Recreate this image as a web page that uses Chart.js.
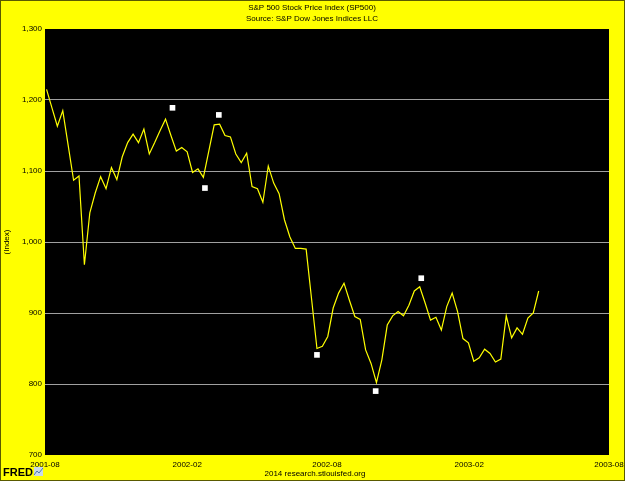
<!DOCTYPE html>
<html>
<head>
<meta charset="utf-8">
<script src="https://cdn.jsdelivr.net/npm/chart.js@4.4.0/dist/chart.umd.min.js"></script>
<style>
  html, body { margin: 0; padding: 0; background: #ffff00; }
  canvas { display: block; }
</style>
</head>
<body>
<canvas id="sp500Chart" width="625" height="481"></canvas>
<script>
// weekly closes (week ending Friday), first week 2001-08-03
const firstWeek = '2001-08-03';
const sp500 = [
    1215, 1189, 1163, 1185, 1136, 1087, 1093, 968, 1041, 1069,
    1092, 1075, 1105, 1088, 1120, 1140, 1152, 1140, 1159, 1124,
    1140, 1157, 1173, 1150, 1128, 1133, 1127, 1098, 1103, 1091,
    1128, 1165, 1166, 1150, 1148, 1124, 1112, 1125, 1078, 1075,
    1056, 1107, 1083, 1068, 1031, 1007, 991, 991, 990, 920,
    850, 853, 867, 907, 928, 942, 918, 895, 891, 848,
    829, 802, 834, 883, 896, 902, 896, 911, 931, 937,
    914, 890, 894, 876, 909, 928, 902, 864, 858, 832,
    837, 849, 843, 831, 835, 896, 865, 879, 870, 893,
    900, 931
];

// white square marks
const markerDates = ['2002-01-13', '2002-02-24', '2002-03-14', '2002-07-19', '2002-10-03', '2002-12-01'];
const markerValues = [1189, 1076, 1179, 841, 790, 949];

const tickDates = ['2001-08-01', '2002-02-01', '2002-08-01', '2003-02-01', '2003-08-01'];
const tickLabels = ['2001-08', '2002-02', '2002-08', '2003-02', '2003-08'];

const FONT = "'Liberation Sans', Arial, sans-serif";
const origin = Date.UTC(2001, 7, 1);

function dayOf(str) {
    const [y, m, d] = str.split('-').map(Number);
    return (Date.UTC(y, m - 1, d) - origin) / 86400000;
}

function withCommas(v) {
    return String(v).replace(/\B(?=(\d{3})+(?!\d))/g, ',');
}

const start = dayOf(firstWeek);
const linePoints = sp500.map((v, i) => ({ x: start + 7 * i, y: v }));
const markerPoints = markerDates.map((d, i) => ({ x: dayOf(d), y: markerValues[i] }));

// yellow page, black plot, texts
const backdrop = {
    id: 'backdrop',
    beforeDraw(chart) {
        const { ctx, chartArea: a, width, height } = chart;
        ctx.save();
        ctx.fillStyle = '#ffff00';
        ctx.fillRect(0, 0, width, height);
        ctx.fillStyle = '#000000';
        ctx.fillRect(a.left, a.top, a.right - a.left, a.bottom - a.top);
        ctx.restore();
    },
    afterDraw(chart) {
        const { ctx, width, height } = chart;
        ctx.save();
        ctx.fillStyle = '#000';
        ctx.font = '8px ' + FONT;
        ctx.textAlign = 'center';
        ctx.textBaseline = 'middle';
        ctx.fillText('S&P 500 Stock Price Index (SP500)', 312, 8);
        ctx.fillText('Source: S&P Dow Jones Indices LLC', 312, 19);
        ctx.fillText('2014 research.stlouisfed.org', 315, 474);

        // FRED logo
        ctx.textAlign = 'left';
        ctx.font = 'bold 11px ' + FONT;
        ctx.fillText('FRED', 3, 473);
        ctx.fillStyle = '#c8d8e8';
        ctx.fillRect(34, 467, 9, 9);
        ctx.strokeStyle = '#4a78b0';
        ctx.lineWidth = 1;
        ctx.beginPath();
        ctx.moveTo(34, 475);
        ctx.lineTo(37, 471);
        ctx.lineTo(39, 473);
        ctx.lineTo(43, 468);
        ctx.stroke();

        ctx.strokeStyle = '#5a5a00';
        ctx.strokeRect(0.5, 0.5, width - 1, height - 1);
        ctx.restore();
    }
};

new Chart(document.getElementById('sp500Chart').getContext('2d'), {
    type: 'line',
    data: {
        datasets: [{
            label: 'SP500',
            data: linePoints,
            borderColor: '#ffff00',
            borderWidth: 1.2,
            pointRadius: 0,
            tension: 0,
            fill: false
        }, {
            type: 'scatter',
            label: 'marks',
            data: markerPoints,
            showLine: false,
            pointStyle: 'rect',
            pointRadius: 4,
            pointBackgroundColor: '#ffffff',
            pointBorderWidth: 0
        }]
    },
    options: {
        responsive: false,
        animation: false,
        devicePixelRatio: 1,
        layout: { padding: { top: 29, right: 16, bottom: 0, left: 0 } },
        plugins: {
            legend: { display: false },
            tooltip: { enabled: false }
        },
        scales: {
            x: {
                type: 'linear',
                min: 0,
                max: dayOf('2003-08-01'),
                afterFit(s) {
                    s.height = 26;
                    s.paddingLeft = 0;
                    s.paddingRight = 0;
                },
                afterBuildTicks(s) { s.ticks = tickDates.map(d => ({ value: dayOf(d) })); },
                ticks: {
                    autoSkip: false,
                    maxRotation: 0,
                    color: '#000',
                    font: { family: FONT, size: 8 },
                    padding: 5,
                    callback: (v, i) => tickLabels[i]
                },
                grid: { display: false, drawTicks: false },
                border: { display: false }
            },
            y: {
                min: 700,
                max: 1300,
                afterFit(s) {
                    s.width = 45;
                    s.paddingTop = 0;
                    s.paddingBottom = 0;
                },
                ticks: {
                    stepSize: 100,
                    color: '#000',
                    font: { family: FONT, size: 8 },
                    padding: 3,
                    callback: v => withCommas(v)
                },
                grid: {
                    drawTicks: false,
                    lineWidth: 1,
                    color: c => (c.tick && c.tick.value > 700 && c.tick.value < 1300) ? '#a0a0a0' : 'rgba(0,0,0,0)'
                },
                border: { display: false },
                title: {
                    display: true,
                    text: '(Index)',
                    color: '#000',
                    font: { family: FONT, size: 8 },
                    padding: { top: 2, bottom: 0 }
                }
            }
        }
    },
    plugins: [backdrop]
});
</script>
</body>
</html>
